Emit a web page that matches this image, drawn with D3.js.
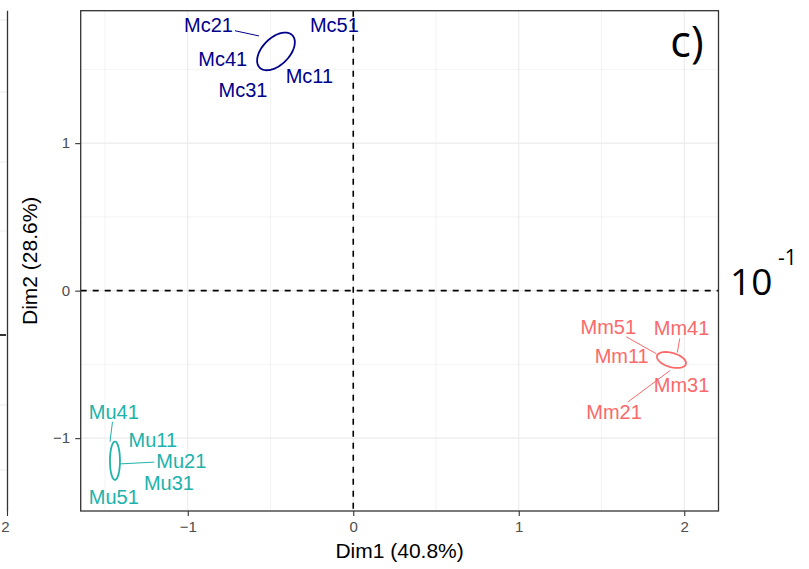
<!DOCTYPE html>
<html>
<head>
<meta charset="utf-8">
<script src="https://cdn.jsdelivr.net/npm/d3@7"></script>
<style>
  body { margin: 0; background: #fff; }
  svg { display: block; font-family: "Liberation Sans", Arial, sans-serif; }
  .grid line { stroke: #ebebeb; }
  .axis text { fill: #4d4d4d; font-size: 15px; }
  .axis line { stroke: #333; stroke-width: 1.1; }
  .axis path { display: none; }
</style>
</head>
<body>
<div id="chart"></div>
<script>
//groups
const groups = ["Mc", "Mm", "Mu"];
const groupColors = ["#00008b", "#fa6a6a", "#20b2aa"];

//individuals (label text, group, label position, point position)
const names = [
  "Mc11", "Mc21", "Mc31", "Mc41", "Mc51",
  "Mm11", "Mm21", "Mm31", "Mm41", "Mm51",
  "Mu11", "Mu21", "Mu31", "Mu41", "Mu51",
];
const nameGroup = [0, 0, 0, 0, 0, 1, 1, 1, 1, 1, 2, 2, 2, 2, 2];
const labelX = [-0.265, -0.875, -0.666, -0.789, -0.114, 1.622, 1.576, 1.984, 1.984, 1.541, -1.211, -1.039, -1.114, -1.447, -1.447];
const labelY = [1.456, 1.801, 1.365, 1.569, 1.801, -0.443, -0.824, -0.639, -0.255, -0.244, -1.012, -1.153, -1.306, -0.82, -1.397];
const pointX = [-0.42, -0.57, -0.5, -0.53, -0.4, 1.88, 1.914, 1.97, 1.958, 1.833, -1.44, -1.414, -1.44, -1.47, -1.45];
const pointY = [1.56, 1.727, 1.55, 1.58, 1.7, -0.46, -0.542, -0.5, -0.42, -0.429, -1.1, -1.175, -1.21, -1.024, -1.26];
const hasSegment = [false, true, false, false, false, false, true, false, true, true, false, true, false, true, false];

//group ellipses: centre and two half-axis vectors (data units)
const ellipseCx = [-0.467, 1.923, -1.44];
const ellipseCy = [1.622, -0.47, -1.153];
const ellipseA = [[0.0983, 0.1102], [0.0871, -0.028], [0, 0.13]];
const ellipseB = [[0.0577, -0.0647], [-0.0118, -0.0462], [0.0302, 0]];

//axes
const xDomain = [-1.647, 2.207];
const yDomain = [-1.494, 1.898];
const xTicks = [-1, 0, 1, 2];
const yTicks = [-1, 0, 1];
const xMinor = [-1.5, -0.5, 0.5, 1.5];
const yMinor = [-0.5, 0.5, 1.5];
const xTitle = "Dim1 (40.8%)";
const yTitle = "Dim2 (28.6%)";

class PcaPlot {
  constructor(_parentNodeId) {
    this.container = d3.select(`#${_parentNodeId}`);
    this.initVis();
  }

  initVis() {
    const width = 809;
    const height = 569;
    this.panel = { left: 80.7, right: 718.5, top: 10.7, bottom: 511 };

    this.svg = this.container
        .append("svg")
        .attr("width", width)
        .attr("height", height);

    this.x = d3.scaleLinear().domain(xDomain).range([this.panel.left, this.panel.right]);
    this.y = d3.scaleLinear().domain(yDomain).range([this.panel.bottom, this.panel.top]);

    this.neighbour();
    this.grid();
    this.zeroLines();
    this.ellipses();
    this.labels();
    this.axes();
    this.annotations();
  }

  neighbour() {
    //right edge of the panel on the left
    const g = this.svg.append("g");
    const edge = 7.5;
    g.selectAll("line.ng")
        .data([20, 92, 162, 231, 405, 470])
        .join("line")
        .attr("x1", 0).attr("x2", edge)
        .attr("y1", (d) => d).attr("y2", (d) => d)
        .attr("stroke", "#ebebeb");
    g.append("line")
        .attr("x1", 0).attr("x2", edge)
        .attr("y1", 335).attr("y2", 335)
        .attr("stroke", "#000").attr("stroke-width", 1.6)
        .attr("stroke-dasharray", "6 6");
    g.append("line")
        .attr("x1", edge).attr("x2", edge)
        .attr("y1", this.panel.top).attr("y2", this.panel.bottom)
        .attr("stroke", "#333").attr("stroke-width", 1.3);
    g.append("line")
        .attr("x1", edge).attr("x2", edge)
        .attr("y1", this.panel.bottom).attr("y2", this.panel.bottom + 5)
        .attr("stroke", "#333").attr("stroke-width", 1.1);
    g.append("text")
        .attr("x", edge - 2).attr("y", 532)
        .attr("text-anchor", "middle")
        .attr("fill", "#4d4d4d").attr("font-size", 15)
        .text("2");
  }

  grid() {
    const g = this.svg.append("g").attr("class", "grid");
    const p = this.panel;

    const vLines = xMinor.map((v) => ({ v, w: 0.6 })).concat(xTicks.map((v) => ({ v, w: 1.1 })));
    const hLines = yMinor.map((v) => ({ v, w: 0.6 })).concat(yTicks.map((v) => ({ v, w: 1.1 })));

    g.selectAll("line.v")
        .data(vLines)
        .join("line")
        .attr("class", "v")
        .attr("x1", (d) => this.x(d.v)).attr("x2", (d) => this.x(d.v))
        .attr("y1", p.top).attr("y2", p.bottom)
        .attr("stroke-width", (d) => d.w);

    g.selectAll("line.h")
        .data(hLines)
        .join("line")
        .attr("class", "h")
        .attr("x1", p.left).attr("x2", p.right)
        .attr("y1", (d) => this.y(d.v)).attr("y2", (d) => this.y(d.v))
        .attr("stroke-width", (d) => d.w);
  }

  zeroLines() {
    const p = this.panel;
    const g = this.svg.append("g");
    g.append("line")
        .attr("x1", this.x(0)).attr("x2", this.x(0))
        .attr("y1", p.top).attr("y2", p.bottom);
    g.append("line")
        .attr("x1", p.left).attr("x2", p.right)
        .attr("y1", this.y(0)).attr("y2", this.y(0));
    g.selectAll("line")
        .attr("stroke", "#000")
        .attr("stroke-width", 1.6)
        .attr("stroke-dasharray", "6 6");
  }

  ellipses() {
    const steps = d3.range(0, 73).map((i) => (i / 72) * 2 * Math.PI);
    const line = d3.line().x((d) => this.x(d[0])).y((d) => this.y(d[1]));

    this.svg
        .append("g")
        .selectAll("path.ellipse")
        .data(groups.map((g, i) => i))
        .join("path")
        .attr("class", "ellipse")
        .attr("fill", "none")
        .attr("stroke", (i) => groupColors[i])
        .attr("stroke-width", 1.8)
        .attr("d", (i) =>
            line(
                steps.map((t) => [
                  ellipseCx[i] + ellipseA[i][0] * Math.cos(t) + ellipseB[i][0] * Math.sin(t),
                  ellipseCy[i] + ellipseA[i][1] * Math.cos(t) + ellipseB[i][1] * Math.sin(t),
                ])
            )
        );
  }

  labels() {
    const fontSize = 20;
    const data = names.map((name, i) => ({
      name,
      color: groupColors[nameGroup[i]],
      lx: this.x(labelX[i]),
      ly: this.y(labelY[i]),
      px: this.x(pointX[i]),
      py: this.y(pointY[i]),
      seg: hasSegment[i],
    }));

    const gSeg = this.svg.append("g");
    const gText = this.svg.append("g");

    const text = gText
        .selectAll("text")
        .data(data)
        .join("text")
        .attr("x", (d) => d.lx)
        .attr("y", (d) => d.ly + fontSize * 0.36)
        .attr("text-anchor", "middle")
        .attr("font-size", fontSize)
        .attr("fill", (d) => d.color)
        .text((d) => d.name);

    //segment from label box edge to point
    text.each(function (d) {
      const box = this.getBBox();
      d.hw = box.width / 2 + 2;
      d.hh = fontSize * 0.36 + 3;
    });

    gSeg.selectAll("line")
        .data(data.filter((d) => d.seg))
        .join("line")
        .attr("stroke", (d) => d.color)
        .attr("stroke-width", 1)
        .each(function (d) {
          const dx = d.px - d.lx;
          const dy = d.py - d.ly;
          const t = Math.min(Math.abs(d.hw / dx), Math.abs(d.hh / dy));
          d3.select(this)
              .attr("x1", d.lx + dx * t).attr("y1", d.ly + dy * t)
              .attr("x2", d.px).attr("y2", d.py);
        });
  }

  axes() {
    const p = this.panel;
    const fmt = d3.format("d");

    this.svg
        .append("g")
        .attr("class", "axis")
        .attr("transform", `translate(0,${p.bottom})`)
        .call(d3.axisBottom(this.x).tickValues(xTicks).tickFormat(fmt).tickSize(5).tickPadding(5));

    this.svg
        .append("g")
        .attr("class", "axis")
        .attr("transform", `translate(${p.left},0)`)
        .call(d3.axisLeft(this.y).tickValues(yTicks).tickFormat(fmt).tickSize(5.5).tickPadding(5));

    //panel border
    this.svg
        .append("rect")
        .attr("x", p.left).attr("y", p.top)
        .attr("width", p.right - p.left).attr("height", p.bottom - p.top)
        .attr("fill", "none")
        .attr("stroke", "#333")
        .attr("stroke-width", 1.3);

    this.svg
        .append("text")
        .attr("x", (p.left + p.right) / 2)
        .attr("y", 558)
        .attr("text-anchor", "middle")
        .attr("font-size", 21)
        .text(xTitle);

    this.svg
        .append("text")
        .attr("transform", `translate(37,${(p.top + p.bottom) / 2})rotate(-90)`)
        .attr("text-anchor", "middle")
        .attr("font-size", 21)
        .text(yTitle);
  }

  annotations() {
    const font = "'Open Sans', 'Noto Sans', sans-serif";
    this.svg
        .append("text")
        .attr("x", 687).attr("y", 57)
        .attr("text-anchor", "middle")
        .attr("font-family", font)
        .attr("font-size", 43)
        .text("c)");

    const t = this.svg
        .append("text")
        .attr("x", 730).attr("y", 295)
        .attr("font-family", font)
        .attr("font-size", 37);
    t.append("tspan").text("10");
    t.append("tspan")
        .attr("x", 778).attr("y", 265)
        .attr("font-size", 21)
        .text("-1");
  }
}

new PcaPlot("chart");
</script>
</body>
</html>
